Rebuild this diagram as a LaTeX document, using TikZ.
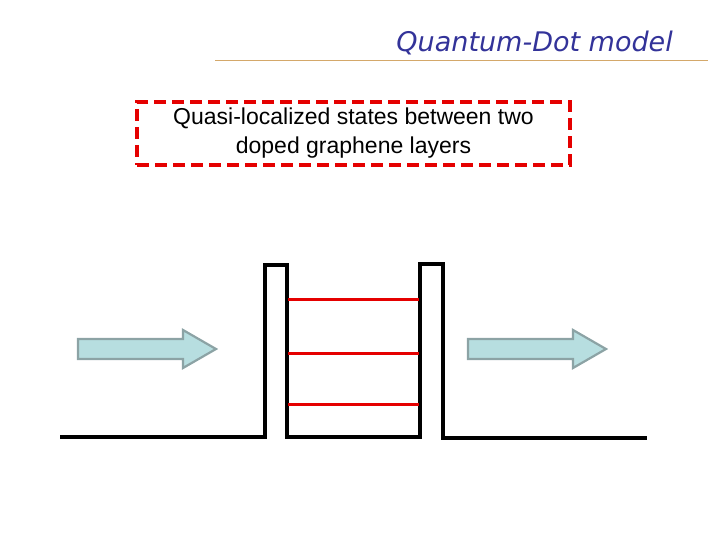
\documentclass[tikz,border=0pt]{standalone}
\usepackage{fontspec}
\setmainfont{Liberation Sans}
\newfontfamily\titlefont{DejaVu Sans}
\definecolor{arrfill}{HTML}{B7DEE0}
\definecolor{arrdraw}{HTML}{8CA3A5}
\definecolor{titlecol}{HTML}{333399}
\definecolor{rulecol}{HTML}{D4A86A}
\tikzset{
  pot/.style={line width=3.2pt, line join=miter},
  level/.style={draw=red!90!black, line width=3pt},
  flow/.style={fill=arrfill, draw=arrdraw, line width=2.2pt, line join=miter},
}
\newcommand{\flowarrow}[1]{%
  \draw[flow] (#1) ++(0,-10) -- ++(105,0) -- ++(0,-9) -- ++(33,19) -- ++(-33,19) -- ++(0,-9) -- ++(-105,0) -- cycle;}
\begin{document}
\begin{tikzpicture}[x=1pt,y=-1pt]
\useasboundingbox (0,0) rectangle (720,540);
\node[anchor=base east, inner sep=0pt, font=\titlefont\itshape\fontsize{27}{32}\selectfont, text=titlecol] (title) at (673,52) {Quantum-Dot model};
\coordinate (r1) at (215,60); \coordinate (r2) at (708,60);
\draw[rulecol, line width=0.8pt] (r1) -- (r2);
\node[draw=red!90!black, dash pattern=on 12pt off 6pt, line width=3.4pt,
  minimum width=433pt, minimum height=63pt, align=center,
  font=\fontsize{23}{29}\selectfont] (box) at (353.5,133.5)
  {Quasi-localized states between two\\doped graphene layers};
\draw[pot] (60,437) -- (265,437) -- (265,265) -- (287,265) -- (287,437) -- (420,437) -- (420,264) -- (443,264) -- (443,438) -- (647,438);
\foreach \yy/\n in {299/a,353/b,404/c}{
  \coordinate (\n1) at (288,\yy); \coordinate (\n2) at (419,\yy);
  \draw[level] (\n1) -- (\n2);
}
\coordinate (inA) at (78,349);
\coordinate (outA) at (468,349);
\flowarrow{inA}
\flowarrow{outA}
\end{tikzpicture}
\end{document}
